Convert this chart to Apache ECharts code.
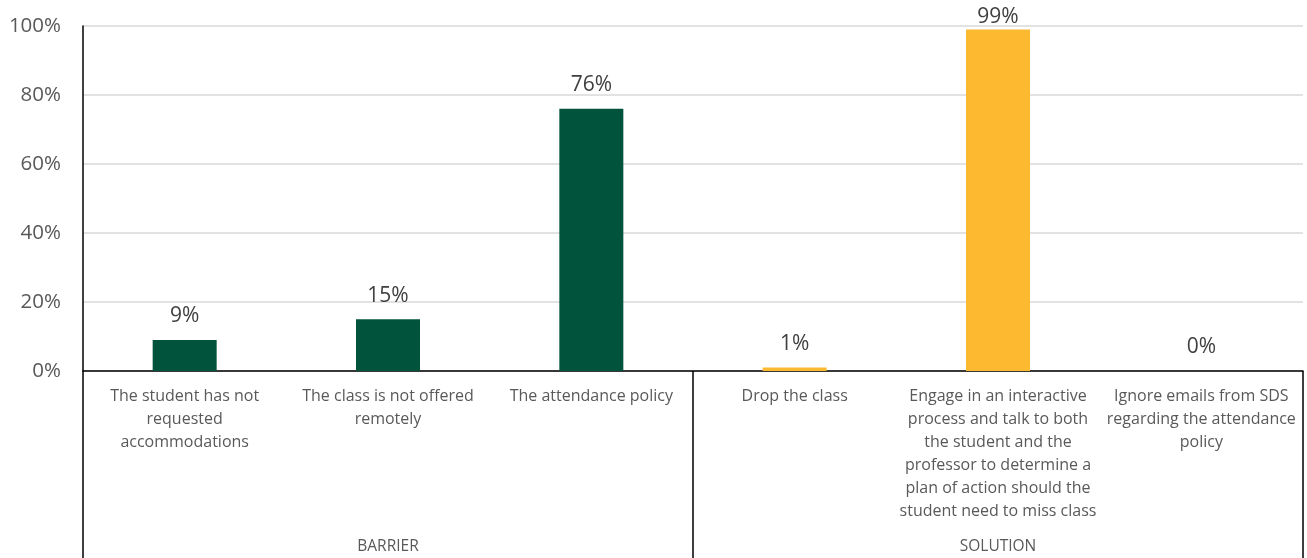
<!DOCTYPE html>
<html>
<head>
<meta charset="utf-8">
<script src="https://cdn.jsdelivr.net/npm/echarts@6/dist/echarts.min.js"></script>
<style>
  html, body { margin: 0; padding: 0; background: #fff; }
  #chart { width: 1307px; height: 558px; }
</style>
</head>
<body>
<div id="chart"></div>
<script>
// Survey answers: share of respondents choosing each option
const categories = [
  'The student has not\nrequested\naccommodations',
  'The class is not offered\nremotely',
  'The attendance policy',
  'Drop the class',
  'Engage in an interactive\nprocess and talk to both\nthe student and the\nprofessor to determine a\nplan of action should the\nstudent need to miss class',
  'Ignore emails from SDS\nregarding the attendance\npolicy'
];
const values = [9, 15, 76, 1, 99, 0];
const groups = ['BARRIER', 'SOLUTION'];
const groupOfCategory = [0, 0, 0, 1, 1, 1];
const yTicks = [0, 20, 40, 60, 80, 100];

const groupColors = ['#02533B', '#FDBA31'];
const font = '"Open Sans", "Noto Sans", sans-serif';

const chart = echarts.init(document.getElementById('chart'));
chart.setOption({
  animation: false,
  grid: { left: 83, right: 4, top: 26, bottom: 187, containLabel: false },
  xAxis: [
    {
      type: 'category',
      data: categories,
      position: 'bottom',
      axisLine: { show: true, lineStyle: { color: '#000', width: 1.5 } },
      axisTick: { show: false },
      axisLabel: {
        interval: 0,
        margin: 14,
        color: '#595959',
        fontFamily: font,
        fontSize: 16,
        lineHeight: 23
      }
    },
    {
      type: 'category',
      data: groups,
      position: 'bottom',
      boundaryGap: true,
      axisLine: { show: false },
      axisTick: { show: true, length: 190, lineStyle: { color: '#000', width: 1.5 } },
      axisLabel: {
        interval: 0,
        margin: 168,
        color: '#595959',
        fontFamily: font,
        fontSize: 15.5
      }
    }
  ],
  yAxis: {
    type: 'value',
    min: yTicks[0],
    max: yTicks[yTicks.length - 1],
    interval: 20,
    axisLine: { show: true, lineStyle: { color: '#000', width: 1.5 } },
    axisTick: { show: false },
    splitLine: { lineStyle: { color: '#D9D9D9', width: 1.5 } },
    axisLabel: {
      formatter: v => v + '%',
      color: '#595959',
      fontFamily: font,
      fontSize: 20.5,
      margin: 22
    }
  },
  series: [{
    type: 'bar',
    xAxisIndex: 0,
    barWidth: 64,
    data: values.map((v, i) => ({
      value: v,
      itemStyle: { color: groupColors[groupOfCategory[i]] },
      // keep the label of a near-full bar inside the chart's top edge
      label: v > 95 ? { distance: 2 } : undefined
    })),
    label: {
      show: true,
      position: 'top',
      distance: 13,
      formatter: p => p.value + '%',
      color: '#404040',
      fontFamily: font,
      fontSize: 21
    }
  }]
});
</script>
</body>
</html>
